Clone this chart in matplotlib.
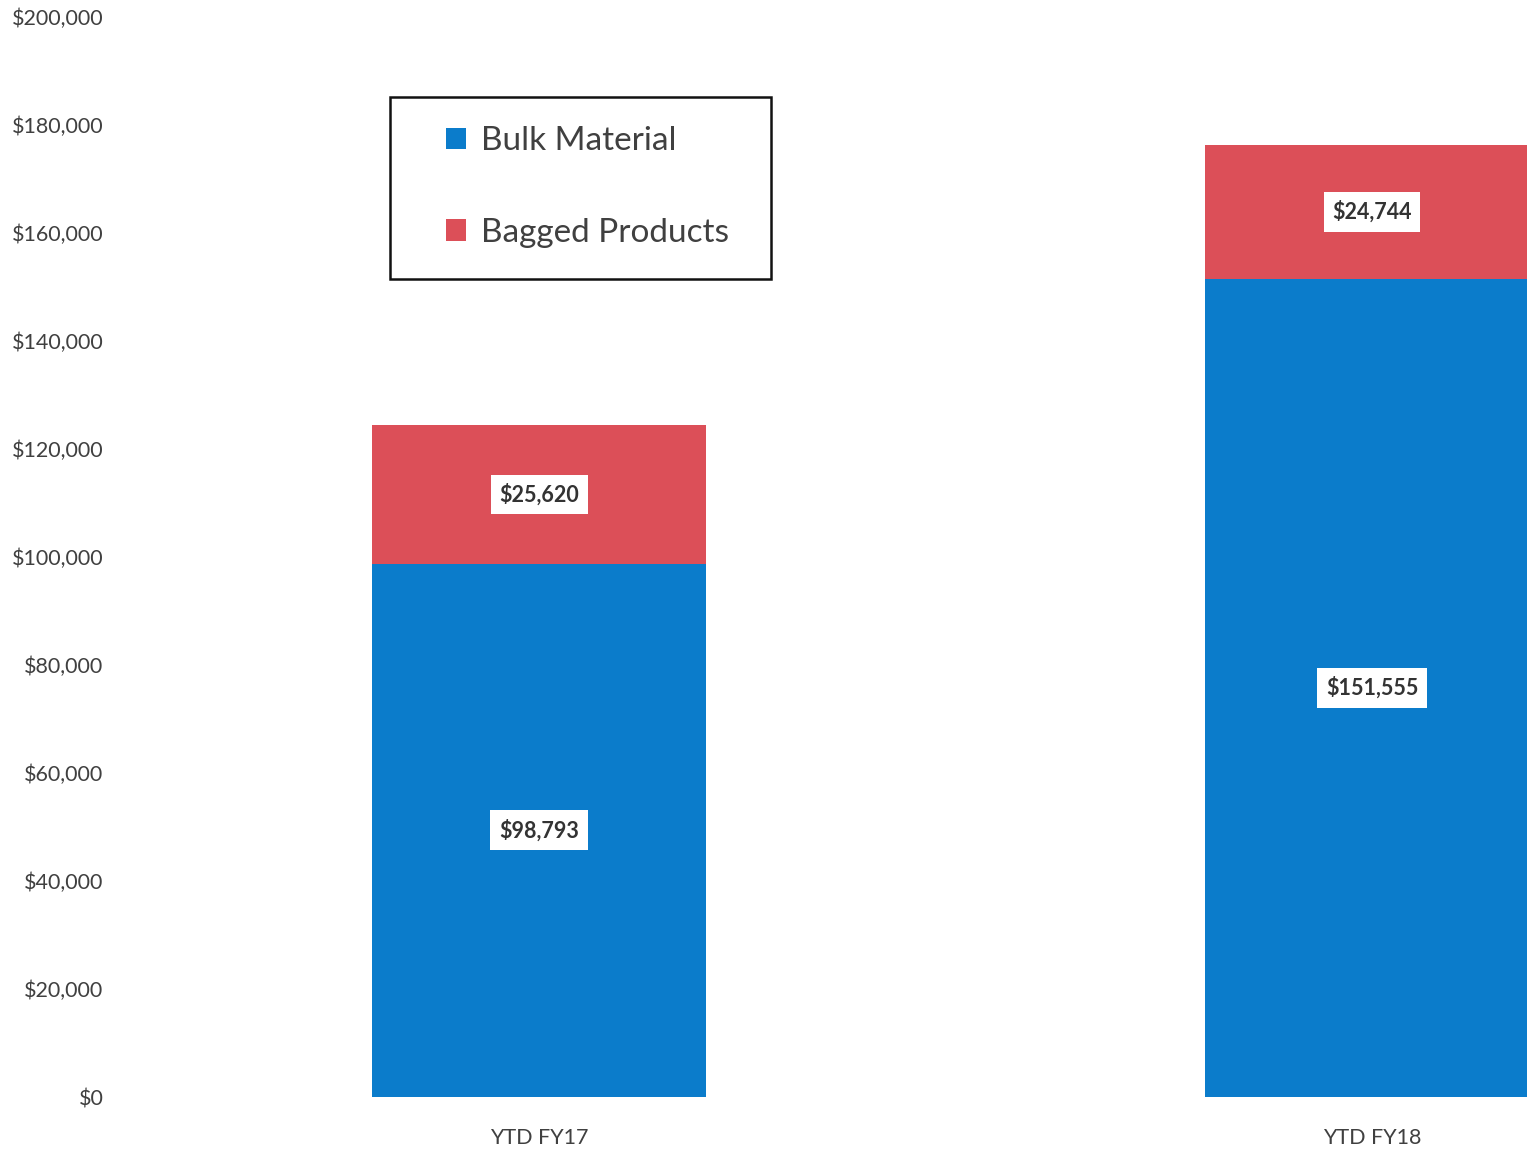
import matplotlib
matplotlib.use("Agg")
import matplotlib.pyplot as plt
from matplotlib.ticker import FuncFormatter
from matplotlib.patches import Rectangle

categories = ["YTD FY17", "YTD FY18"]
bulk_material = [98793, 151555]
bagged_products = [25620, 24744]
series_names = ["Bulk Material", "Bagged Products"]
yticks = list(range(0, 200001, 20000))

plt.rcParams['font.family'] = ['Lato', 'DejaVu Sans']

blue = '#0B7CCB'
red = '#DC4F58'

W, H = 1527, 1153
fig = plt.figure(figsize=(W/100, H/100), dpi=100)
ax = fig.add_axes([120/W, 56/H, 1 - 120/W, (1097-17)/H])

x = list(range(len(categories)))
ax.bar(x, bulk_material, width=0.4, color=blue, label=series_names[0])
ax.bar(x, bagged_products, width=0.4, bottom=bulk_material, color=red, label=series_names[1])

ax.set_xlim(-0.503, 1.186)
ax.set_ylim(0, 200000)
ax.set_yticks(yticks)
ax.yaxis.set_major_formatter(FuncFormatter(lambda v, p: f"${int(v):,}"))
ax.set_xticks(x)
ax.set_xticklabels(categories)
ax.tick_params(axis='both', length=0, labelsize=15.5, colors='#404040')
ax.tick_params(axis='x', pad=22)
ax.tick_params(axis='y', pad=12)
for s in ax.spines.values():
    s.set_visible(False)

box = dict(boxstyle='square,pad=0.4', facecolor='white', edgecolor='none')
for i in x:
    ax.text(i, bulk_material[i] / 2, f"${bulk_material[i]:,}", ha='center', va='center',
            fontsize=15.5, fontweight='bold', color='#333333', bbox=box)
    ax.text(i, bulk_material[i] + bagged_products[i] / 2, f"${bagged_products[i]:,}",
            ha='center', va='center', fontsize=15.5, fontweight='bold', color='#333333', bbox=box)

# legend frame
fig.patches.append(Rectangle((390/W, 1 - 279/H), (771-390)/W, (279-97)/H,
                             transform=fig.transFigure, fill=False, edgecolor='#111111',
                             linewidth=1.8, zorder=5))

leg = ax.legend(loc='upper left', bbox_to_anchor=(446/W, 1 - 126/H), bbox_transform=fig.transFigure,
                fontsize=24, frameon=False, labelcolor='#404040',
                handlelength=0.6, handleheight=0.6, handletextpad=0.45, labelspacing=1.85,
                borderpad=0.0, borderaxespad=0)

fig.savefig("out.png", dpi=100)
